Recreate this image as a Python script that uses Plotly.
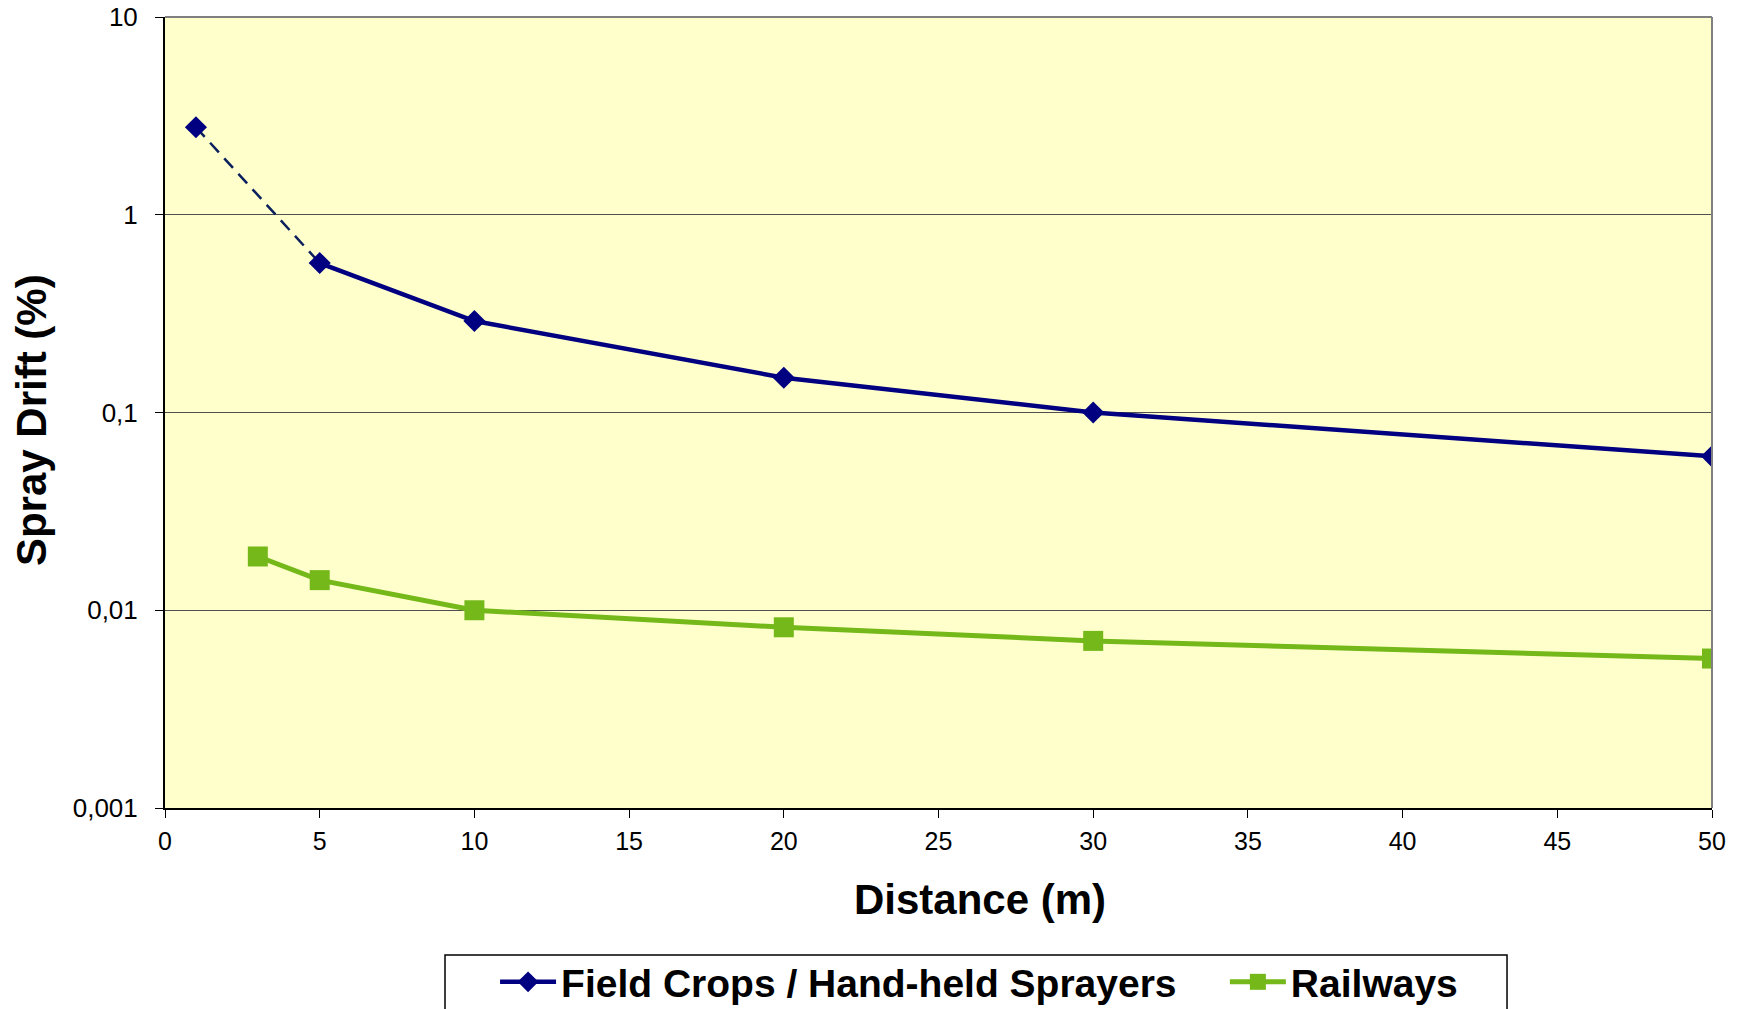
import plotly.graph_objects as go

# Data
field_x = [1, 5, 10, 20, 30, 50]
field_y = [2.77, 0.57, 0.29, 0.15, 0.10, 0.06]
rail_x = [3, 5, 10, 20, 30, 50]
rail_y = [0.0187, 0.0142, 0.0100, 0.0082, 0.0070, 0.0057]
y_tickvals = [0.001, 0.01, 0.1, 1, 10]
y_ticktext = ["0,001", "0,01", "0,1", "1", "10"]
x_tickvals = [0, 5, 10, 15, 20, 25, 30, 35, 40, 45, 50]
names = ["Field Crops / Hand-held Sprayers", "Railways"]
x_title = "Distance (m)"
y_title = "Spray Drift (%)"

NAVY = "#000080"
GREEN = "#74B819"
FONT = "Arial, Liberation Sans, sans-serif"
NB = "\u00a0"

fig = go.Figure()

# dashed first segment (1 m to 5 m)
fig.add_trace(go.Scatter(
    x=field_x[:2], y=field_y[:2], mode="lines",
    line=dict(color="#0A1F5C", width=2.5, dash="13px,8px"),
    showlegend=False, hoverinfo="skip"))

fig.add_trace(go.Scatter(
    x=field_x[1:], y=field_y[1:], mode="lines+markers",
    name=names[0] + NB * 4,
    line=dict(color=NAVY, width=4.5),
    marker=dict(symbol="diamond", size=17, color=NAVY)))

fig.add_trace(go.Scatter(
    x=field_x[:1], y=field_y[:1], mode="markers",
    marker=dict(symbol="diamond", size=17, color=NAVY),
    showlegend=False))

fig.add_trace(go.Scatter(
    x=rail_x, y=rail_y, mode="lines+markers", name=names[1],
    line=dict(color=GREEN, width=5),
    marker=dict(symbol="square", size=20, color=GREEN)))

fig.update_layout(
    width=1748, height=1009,
    margin=dict(l=165, r=36, t=17, b=201),
    paper_bgcolor="white",
    plot_bgcolor="#FFFFCC",
    font=dict(family=FONT, color="black"),
    showlegend=True,
    legend=dict(
        orientation="h", xref="container", yref="container",
        x=0.5601, xanchor="center", y=0.0585, yanchor="top",
        font=dict(family=FONT, size=39, weight=700, color="black"),
        borderwidth=0, bgcolor="rgba(0,0,0,0)",
        itemwidth=56,
    ),
    xaxis=dict(
        range=[0, 50], tickvals=x_tickvals,
        showgrid=False, zeroline=False, automargin=False,
        showline=True, linecolor="black", linewidth=2,
        ticks="outside", ticklen=8, tickcolor="black", tickwidth=1,
        tickfont=dict(size=25, family=FONT),
        ticklabelstandoff=2, ticklabeloverflow="allow",
    ),
    yaxis=dict(
        type="log", range=[-3, 1], tickvals=y_tickvals, ticktext=y_ticktext,
        showgrid=True, gridcolor="#505050", gridwidth=1,
        zeroline=False, automargin=False,
        showline=True, linecolor="black", linewidth=2,
        ticks="outside", ticklen=8, tickcolor="black", tickwidth=1,
        tickfont=dict(size=26, family=FONT),
        ticklabelstandoff=12, ticklabeloverflow="allow",
    ),
    annotations=[
        dict(text=x_title, xref="paper", yref="paper", x=0.5268, y=-0.1163,
             xanchor="center", yanchor="middle", showarrow=False,
             font=dict(size=42, weight=700, family=FONT, color="black")),
        dict(text=y_title, xref="paper", yref="paper", x=-0.0866, y=0.4905,
             xanchor="center", yanchor="middle", showarrow=False, textangle=-90,
             font=dict(size=42, weight=700, family=FONT, color="black")),
    ],
    shapes=[
        dict(type="line", xref="paper", yref="paper", x0=0, x1=1, y0=1, y1=1,
             line=dict(color="#808080", width=2)),
        dict(type="line", xref="paper", yref="paper", x0=1, x1=1, y0=0, y1=1,
             line=dict(color="#808080", width=2)),
        dict(type="rect", xref="paper", yref="paper", x0=0.181, x1=0.8675,
             y0=-0.262, y1=-0.1858, line=dict(color="black", width=1.5),
             fillcolor="rgba(0,0,0,0)", layer="below"),
    ],
)

fig.write_html("out.html", config={"displayModeBar": False},
               post_script="document.body.style.margin='0';")
